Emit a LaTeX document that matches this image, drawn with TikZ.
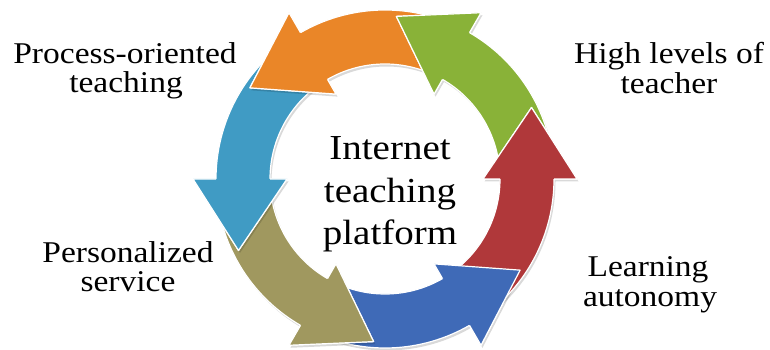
\documentclass[tikz,border=0pt]{standalone}
\usepackage{fontspec}
\setmainfont{Liberation Serif}
\usepackage{graphicx}
\definecolor{cOrange}{RGB}{234,134,40}
\definecolor{cGreen}{RGB}{137,178,56}
\definecolor{cRed}{RGB}{176,56,58}
\definecolor{cBlue}{RGB}{63,106,183}
\definecolor{cOlive}{RGB}{160,152,95}
\definecolor{cTeal}{RGB}{64,155,196}
\newcommand{\sq}[1]{\scalebox{1}[0.9]{#1}}
\begin{document}
\begin{tikzpicture}[x=1pt,y=1pt,
  segbody/.style={fill=#1, draw=white, line width=1.2pt, line join=round},
  seghead/.style={fill=#1},
  segedge/.style={draw=white, line width=1.2pt, line join=round},
  segshadow/.style={fill=black, opacity=0.15},
  lbl/.style={font=\fontsize{33.5}{36}\selectfont, anchor=base, inner sep=0pt},
  ctr/.style={font=\fontsize{39}{42}\selectfont, anchor=base, inner sep=0pt}]
\useasboundingbox (0,0) rectangle (770,350);
\fill[white] (0,0) rectangle (770,350);
\begin{scope}[shift={(385,171)}]
\foreach \t/\c in {300/cBlue,240/cOlive,180/cTeal,120/cOrange,60/cGreen,0/cRed}{
  \pgfmathsetmacro\ts{\t-55}
  \pgfmathsetmacro\tp{\t+26}
  \fill[segshadow,shift={(1.5,-2.5)}] (\ts:169pt) arc[start angle=\ts, end angle=\t, radius=169pt] -- (\t:192pt) -- (\tp:163pt) -- (\t:98pt) -- (\t:115pt) arc[start angle=\t, end angle=\ts, radius=115pt] -- cycle;
  \path[segbody=\c] (\ts:169pt) arc[start angle=\ts, end angle=\t, radius=169pt] -- (\t:192pt) -- (\tp:163pt) -- (\t:98pt) -- (\t:115pt) arc[start angle=\t, end angle=\ts, radius=115pt] -- cycle;
}
\foreach \t/\c in {300/cBlue,240/cOlive,180/cTeal,120/cOrange,60/cGreen,0/cRed}{
  \pgfmathsetmacro\tp{\t+26}
  \fill[seghead=\c] (\t:192pt) -- (\tp:163pt) -- (\t:98pt) -- cycle;
  \draw[segedge] (\t:169pt) -- (\t:192pt) -- (\tp:163pt) -- (\t:98pt) -- (\t:115pt);
}
\end{scope}
\node[ctr] (c1) at (390,190) {\sq{Internet}};
\node[ctr] (c2) at (390,147) {\sq{teaching}};
\node[ctr] (c3) at (390,105) {\sq{platform}};
\node[lbl] (p1) at (125,286) {\sq{Process-oriented}};
\node[lbl] (p2) at (126,257) {\sq{teaching}};
\node[lbl] (h1) at (669,286) {\sq{High levels of}};
\node[lbl] (h2) at (669,256) {\sq{teacher}};
\node[lbl] (s1) at (128,87) {\sq{Personalized}};
\node[lbl] (s2) at (128,58) {\sq{service}};
\node[lbl] (l1) at (648,73) {\sq{Learning}};
\node[lbl] (l2) at (650,43) {\sq{autonomy}};
\end{tikzpicture}
\end{document}
